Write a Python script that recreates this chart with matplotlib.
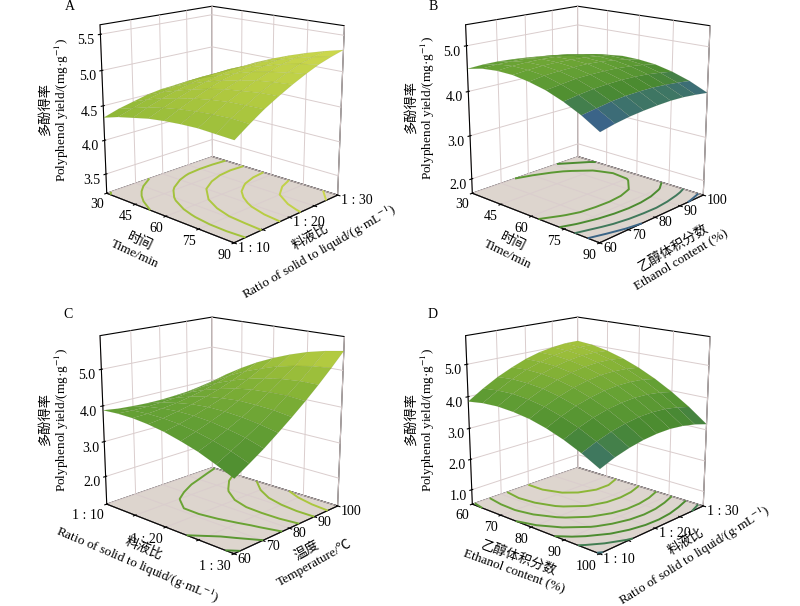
import matplotlib
matplotlib.use('Agg')
import matplotlib.pyplot as plt
import numpy as np
from matplotlib.colors import LinearSegmentedColormap, Normalize

plt.rcParams['font.family'] = ['Liberation Serif', 'Noto Sans CJK SC']
plt.rcParams['mathtext.fontset'] = 'stix'
plt.rcParams['font.size'] = 10
plt.rcParams['grid.color'] = '#dacdcd'
plt.rcParams['grid.linewidth'] = 0.7

# factor levels of the surface grid
time_min = [30, 37.5, 45, 52.5, 60, 67.5, 75, 82.5, 90]
ratio = [10, 12.5, 15, 17.5, 20, 22.5, 25, 27.5, 30]
ethanol = [60, 65, 70, 75, 80, 85, 90, 95, 100]
temperature = [60, 65, 70, 75, 80, 85, 90, 95, 100]

# tick values / labels
time_ticks = [30, 45, 60, 75, 90]
ratio_ticks = [10, 15, 20, 25, 30]
ratio_labels = ['1 : 10', '', '1 : 20', '', '1 : 30']
ten_ticks = [60, 70, 80, 90, 100]

# polyphenol yield (mg/g) read off the surfaces
# A: rows = ratio, cols = time
yield_a = [[4.33, 4.40, 4.45, 4.50, 4.53, 4.55, 4.56, 4.55, 4.54],
           [4.40, 4.47, 4.54, 4.59, 4.63, 4.66, 4.68, 4.69, 4.68],
           [4.45, 4.54, 4.61, 4.67, 4.72, 4.76, 4.79, 4.80, 4.81],
           [4.50, 4.59, 4.67, 4.74, 4.80, 4.85, 4.88, 4.91, 4.92],
           [4.53, 4.63, 4.72, 4.80, 4.87, 4.92, 4.97, 5.00, 5.02],
           [4.54, 4.66, 4.76, 4.84, 4.92, 4.99, 5.04, 5.08, 5.11],
           [4.55, 4.67, 4.78, 4.88, 4.96, 5.03, 5.10, 5.15, 5.19],
           [4.54, 4.67, 4.79, 4.89, 4.99, 5.07, 5.14, 5.20, 5.25],
           [4.52, 4.66, 4.78, 4.90, 5.00, 5.09, 5.17, 5.24, 5.30]]
# B: rows = ethanol, cols = time
yield_b = [[4.50, 4.58, 4.61, 4.60, 4.54, 4.45, 4.31, 4.13, 3.90],
           [4.52, 4.60, 4.64, 4.63, 4.59, 4.49, 4.36, 4.18, 3.97],
           [4.52, 4.60, 4.65, 4.65, 4.61, 4.53, 4.40, 4.23, 4.02],
           [4.50, 4.59, 4.65, 4.65, 4.62, 4.54, 4.42, 4.26, 4.05],
           [4.47, 4.57, 4.63, 4.64, 4.62, 4.54, 4.43, 4.27, 4.07],
           [4.43, 4.53, 4.60, 4.62, 4.60, 4.53, 4.42, 4.27, 4.08],
           [4.37, 4.48, 4.55, 4.58, 4.56, 4.50, 4.40, 4.25, 4.07],
           [4.29, 4.41, 4.49, 4.52, 4.51, 4.46, 4.36, 4.22, 4.04],
           [4.20, 4.33, 4.41, 4.45, 4.44, 4.40, 4.31, 4.18, 4.00]]
# C: rows = temperature, cols = ratio
yield_c = [[3.88, 3.90, 3.89, 3.84, 3.76, 3.64, 3.50, 3.31, 3.10],
           [3.82, 3.88, 3.90, 3.89, 3.85, 3.77, 3.66, 3.52, 3.34],
           [3.79, 3.88, 3.94, 3.97, 3.96, 3.92, 3.84, 3.74, 3.59],
           [3.77, 3.90, 3.99, 4.06, 4.09, 4.08, 4.04, 3.97, 3.87],
           [3.77, 3.93, 4.07, 4.17, 4.23, 4.27, 4.26, 4.23, 4.16],
           [3.79, 3.99, 4.16, 4.29, 4.40, 4.47, 4.50, 4.51, 4.47],
           [3.82, 4.06, 4.27, 4.44, 4.58, 4.69, 4.76, 4.80, 4.80],
           [3.88, 4.15, 4.40, 4.61, 4.78, 4.93, 5.03, 5.11, 5.15],
           [3.95, 4.26, 4.54, 4.79, 5.00, 5.18, 5.33, 5.44, 5.52]]
# D: rows = ratio, cols = ethanol
yield_d = [[3.85, 3.92, 3.94, 3.90, 3.82, 3.68, 3.49, 3.25, 2.96],
           [4.15, 4.20, 4.21, 4.16, 4.06, 3.90, 3.70, 3.44, 3.14],
           [4.41, 4.45, 4.43, 4.37, 4.25, 4.09, 3.87, 3.59, 3.27],
           [4.62, 4.65, 4.62, 4.54, 4.41, 4.22, 3.99, 3.70, 3.36],
           [4.80, 4.80, 4.76, 4.66, 4.52, 4.32, 4.07, 3.77, 3.41],
           [4.93, 4.92, 4.86, 4.75, 4.59, 4.37, 4.11, 3.79, 3.42],
           [5.01, 4.99, 4.92, 4.79, 4.61, 4.38, 4.10, 3.77, 3.38],
           [5.06, 5.02, 4.93, 4.79, 4.59, 4.35, 4.05, 3.70, 3.30],
           [5.06, 5.01, 4.90, 4.74, 4.53, 4.27, 3.96, 3.60, 3.18]]

zlabel = '多酚得率\nPolyphenol yield/(mg·g$^{-1}$)'
lab_time = '时间\nTime/min'
lab_ratio = '料液比\nRatio of solid to liquid/(g·mL$^{-1}$)'
lab_eth = '乙醇体积分数\nEthanol content (%)'
lab_temp = '温度\nTemperature/℃'

cmap = LinearSegmentedColormap.from_list('rsm', [
    (0.0, '#3a5a9c'), (0.15, '#3d7468'), (0.3, '#4a8a30'), (0.5, '#64a034'),
    (0.7, '#8ab536'), (0.85, '#b2ca40'), (1.0, '#d4dc52')])

# label positions are in figure pixels (x, y from top), with text angle
panels = [
    dict(letter='A', x=time_min, y=ratio, z=yield_a, xl=lab_time, yl=lab_ratio,
         xt=time_ticks, xtl=[str(v) for v in time_ticks], yt=ratio_ticks, ytl=ratio_labels,
         zt=[3.5, 4.0, 4.5, 5.0, 5.5], zlim=(3.21, 5.63), vlim=(1.8, 5.4),
         rect=[0.022, 0.548, 0.50, 0.52], lpos=(70, 7),
         xlp=(137, 248, -25), ylp=(316, 246, 30), zlp=(55, 110)),
    dict(letter='B', x=time_min, y=ethanol, z=yield_b, xl=lab_time, yl=lab_eth,
         xt=time_ticks, xtl=[str(v) for v in time_ticks], yt=ten_ticks, ytl=[str(v) for v in ten_ticks],
         zt=[2.0, 3.0, 4.0, 5.0], zlim=(1.66, 5.45), vlim=(3.97, 5.2),
         rect=[0.479, 0.548, 0.50, 0.52], lpos=(433, 7),
         xlp=(510, 248, -26), ylp=(677, 253, 31), zlp=(421, 108)),
    dict(letter='C', x=ratio, y=temperature, z=yield_c, xl=lab_ratio, yl=lab_temp,
         xt=ratio_ticks, xtl=ratio_labels, yt=ten_ticks, ytl=[str(v) for v in ten_ticks],
         zt=[2.0, 3.0, 4.0, 5.0], zlim=(1.19, 5.9), vlim=(1.9, 5.9),
         rect=[0.022, 0.035, 0.50, 0.52], lpos=(68, 315),
         xlp=(140, 558, -23), ylp=(311, 557, 29), zlp=(55, 420)),
    dict(letter='D', x=ethanol, y=ratio, z=yield_d, xl=lab_eth, yl=lab_ratio,
         xt=ten_ticks, xtl=[str(v) for v in ten_ticks], yt=ratio_ticks, ytl=ratio_labels,
         zt=[1.0, 2.0, 3.0, 4.0, 5.0], zlim=(0.52, 5.87), vlim=(2.66, 5.66),
         rect=[0.479, 0.035, 0.50, 0.52], lpos=(433, 315),
         xlp=(517, 564, -20), ylp=(691, 550, 32), zlp=(421, 420)),
]

W, H = 800, 606
fig = plt.figure(figsize=(8, 6.06), dpi=100)

for p in panels:
    ax = fig.add_axes(p['rect'], projection='3d')
    ax.set_facecolor('none')
    ax.set_proj_type('persp', focal_length=0.5)
    ax.view_init(elev=16, azim=-47)
    ax.set_box_aspect((1.12, 1, 1.11), zoom=0.91)

    X, Y = np.meshgrid(p['x'], p['y'])
    Z = np.array(p['z'])
    norm = Normalize(*p['vlim'])
    ax.plot_surface(X, Y, Z, cmap=cmap, norm=norm, linewidth=0.25,
                    edgecolor=(0.3, 0.4, 0.1, 0.18), antialiased=True)
    ax.contour(X, Y, Z, levels=6, zdir='z', offset=p['zlim'][0],
               cmap=cmap, norm=norm, linewidths=1.4)

    ax.set_xlim(p['x'][0], p['x'][-1])
    ax.set_ylim(p['y'][0], p['y'][-1])
    ax.set_zlim(*p['zlim'])
    ax.set_xticks(p['xt'], p['xtl'])
    ax.set_yticks(p['yt'], p['ytl'])
    ax.set_zticks(p['zt'], ['%.1f' % v for v in p['zt']])
    ax.tick_params(axis='x', labelsize=10, pad=-5)
    ax.tick_params(axis='y', labelsize=10, pad=-5)
    ax.tick_params(axis='z', labelsize=10, pad=-1)
    plt.setp(ax.get_xticklabels(), ha='right', va='top')
    plt.setp(ax.get_yticklabels(), ha='left', va='center')
    ax.zaxis.set_ticks_position('lower')

    ax.xaxis.set_pane_color((1, 1, 1, 1))
    ax.yaxis.set_pane_color((1, 1, 1, 1))
    ax.zaxis.set_pane_color('#ddd5ce')
    for a in (ax.xaxis, ax.yaxis, ax.zaxis):
        a.pane.set_edgecolor('black')
        a.pane.set_linewidth(0.8)

    # axis titles placed by hand
    for txt, (px, py, ang) in ((p['xl'], p['xlp']), (p['yl'], p['ylp'])):
        fig.text(px / W, 1 - py / H, txt, rotation=ang, rotation_mode='anchor',
                 ha='center', va='center', multialignment='center',
                 linespacing=1.15, fontsize=9.5)
    fig.text(p['zlp'][0] / W, 1 - p['zlp'][1] / H, zlabel, rotation=90,
             rotation_mode='anchor', ha='center', va='center',
             multialignment='center', linespacing=1.15, fontsize=9.5)
    fig.text(p['lpos'][0] / W, 1 - p['lpos'][1] / H, p['letter'],
             ha='center', va='center', fontsize=10)

fig.savefig('out.png', dpi=100, facecolor='white')
